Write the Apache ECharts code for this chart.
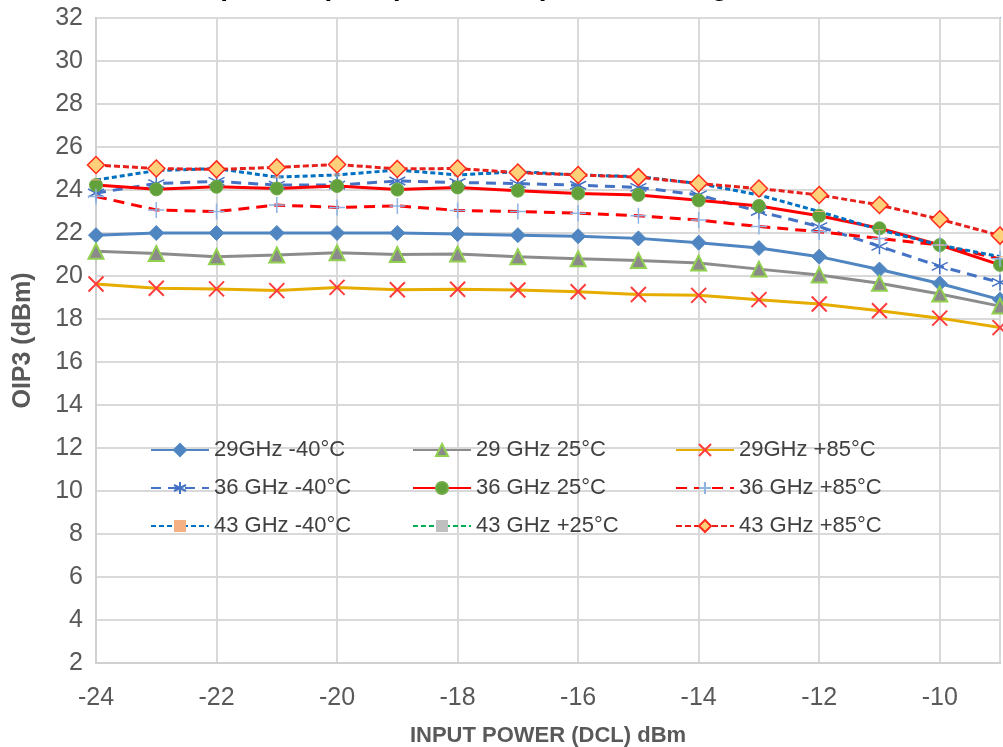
<!DOCTYPE html>
<html>
<head>
<meta charset="utf-8">
<script src="https://cdn.jsdelivr.net/npm/echarts@6/dist/echarts.min.js"></script>
<style>
  html, body { margin: 0; padding: 0; background: #ffffff; }
  #chart { width: 1003px; height: 747px; }
</style>
</head>
<body>
<div id="chart"></div>
<script>
// Input power (dBm) — x values
const inputPower = [-24, -23, -22, -21, -20, -19, -18, -17, -16, -15, -14, -13, -12, -11, -10, -9];

// OIP3 (dBm) per series
const s29m40 = [21.9, 22.0, 22.0, 22.0, 22.0, 22.0, 21.95, 21.9, 21.85, 21.75, 21.55, 21.3, 20.9, 20.3, 19.65, 18.9];
const s29p25 = [21.15, 21.05, 20.9, 20.98, 21.08, 21.0, 21.02, 20.9, 20.8, 20.72, 20.6, 20.32, 20.05, 19.66, 19.16, 18.6];
const s29p85 = [19.63, 19.43, 19.4, 19.32, 19.47, 19.36, 19.38, 19.35, 19.27, 19.14, 19.1, 18.9, 18.7, 18.38, 18.04, 17.6];
const s36m40 = [23.86, 24.3, 24.4, 24.23, 24.23, 24.42, 24.35, 24.3, 24.22, 24.12, 23.77, 23.0, 22.3, 21.38, 20.45, 19.7];
const s36p25 = [24.23, 24.03, 24.15, 24.07, 24.19, 24.02, 24.12, 23.97, 23.84, 23.77, 23.52, 23.26, 22.8, 22.22, 21.44, 20.52];
const s36p85 = [23.7, 23.07, 23.0, 23.3, 23.19, 23.26, 23.05, 23.0, 22.92, 22.8, 22.6, 22.3, 22.06, 21.75, 21.44, 20.8];
const s43m40 = [24.47, 24.9, 25.0, 24.6, 24.7, 24.93, 24.7, 24.85, 24.7, 24.62, 24.3, 23.77, 23.0, 22.15, 21.44, 20.9];
const s43p25 = [];
const s43p85 = [25.16, 25.0, 24.96, 25.05, 25.19, 24.98, 25.0, 24.81, 24.7, 24.6, 24.3, 24.07, 23.77, 23.3, 22.64, 21.88];

const seriesNames = [
  '29GHz -40°C', '36 GHz -40°C', '43 GHz -40°C',
  '29 GHz 25°C', '36 GHz 25°C', '43 GHz +25°C',
  '29GHz +85°C', '36 GHz +85°C', '43 GHz +85°C'
];

// Axis settings
const xMin = -24, xMax = -9, xStep = 2;
const yMin = 2, yMax = 32, yStep = 2;

const pair = arr => arr.map((v, i) => [inputPower[i], v]);

const X_PATH = 'path://M0,0L10,10M10,0L0,10';
const PLUS_PATH = 'path://M5,0L5,10M0,5L10,5';
const AST_PATH = 'path://M5,0L5,10M0.7,2.5L9.3,7.5M0.7,7.5L9.3,2.5';
const DASH_PATH = 'path://M0,0L9,0L9,3L0,3Z';

const series = [
  { name: '29GHz -40°C', data: pair(s29m40),
    lineStyle: { color: '#4f86c1', width: 3, type: 'solid' },
    symbol: 'diamond', symbolSize: 15,
    itemStyle: { color: '#4f86c1', borderColor: '#4f86c1', borderWidth: 1 } },
  { name: '29 GHz 25°C', data: pair(s29p25),
    lineStyle: { color: '#8c8c8c', width: 3, type: 'solid' },
    symbol: 'triangle', symbolSize: 15,
    itemStyle: { color: '#8a8a8a', borderColor: '#92d050', borderWidth: 2 } },
  { name: '29GHz +85°C', data: pair(s29p85),
    lineStyle: { color: '#e6ad00', width: 3, type: 'solid' },
    symbol: X_PATH, symbolSize: 15,
    itemStyle: { color: 'rgba(0,0,0,0)', borderColor: '#ff3b3b', borderWidth: 2 } },
  { name: '36 GHz -40°C', data: pair(s36m40),
    lineStyle: { color: '#4472c4', width: 3, type: [10, 7] },
    symbol: AST_PATH, symbolSize: 16,
    itemStyle: { color: 'rgba(0,0,0,0)', borderColor: '#4472c4', borderWidth: 1.5 } },
  { name: '36 GHz 25°C', data: pair(s36p25),
    lineStyle: { color: '#ff0000', width: 3, type: 'solid' },
    symbol: 'circle', symbolSize: 13,
    itemStyle: { color: '#62a03c', borderColor: '#70ad47', borderWidth: 1 } },
  { name: '36 GHz +85°C', data: pair(s36p85),
    lineStyle: { color: '#ff0000', width: 3, type: [11, 7] },
    symbol: PLUS_PATH, symbolSize: 16,
    itemStyle: { color: 'rgba(0,0,0,0)', borderColor: '#8fb4e3', borderWidth: 1.5 } },
  { name: '43 GHz -40°C', data: pair(s43m40),
    lineStyle: { color: '#0070c0', width: 3, type: [5, 3] },
    symbol: DASH_PATH, symbolSize: [9, 3], symbolKeepAspect: true,
    itemStyle: { color: '#f4b183', borderWidth: 0 } },
  { name: '43 GHz +25°C', data: pair(s43p25),
    lineStyle: { color: '#00b050', width: 3, type: [5, 3] },
    symbol: DASH_PATH, symbolSize: [9, 3], symbolKeepAspect: true,
    itemStyle: { color: '#bfbfbf', borderWidth: 0 } },
  { name: '43 GHz +85°C', data: pair(s43p85),
    lineStyle: { color: '#e8201c', width: 3, type: [6, 3] },
    symbol: 'diamond', symbolSize: 17,
    itemStyle: { color: '#ffd07a', borderColor: '#ff2a1a', borderWidth: 1.5 } }
].map(s => Object.assign({ type: 'line', showAllSymbol: true, smooth: false, animation: false,
  emphasis: { disabled: true } }, s));

const legendText = { fontFamily: 'Liberation Sans, Arial, sans-serif', fontSize: 22, color: '#404040', lineHeight: 24 };
const legendCommon = {
  orient: 'vertical', itemWidth: 58, itemHeight: 15, itemGap: 14,
  textStyle: legendText, selectedMode: false, top: 438, padding: 0
};

const option = {
  backgroundColor: '#ffffff',
  animation: false,
  graphic: [{
    type: 'text', left: 172, top: -27,
    style: { text: 'Output IP3 (OIP3) Over Temperature Range', fill: '#000000',
      font: 'bold 28px "Liberation Sans", Arial, sans-serif' }
  }],
  grid: { left: 96, right: 3, top: 18, bottom: 84, outerBoundsMode: 'none', containLabel: false,
    show: true, borderColor: '#8ab8e6', borderWidth: 2, backgroundColor: 'transparent' },
  legend: [
    Object.assign({ left: 150, data: [seriesNames[0], seriesNames[1], seriesNames[2]] }, legendCommon),
    Object.assign({ left: 412, data: [seriesNames[3], seriesNames[4], seriesNames[5]] }, legendCommon),
    Object.assign({ left: 675, data: [seriesNames[6], seriesNames[7], seriesNames[8]] }, legendCommon)
  ],
  xAxis: {
    type: 'value', min: xMin, max: xMax, interval: xStep,
    name: 'INPUT POWER (DCL) dBm', nameLocation: 'middle', nameGap: 62,
    nameTextStyle: { fontFamily: 'Liberation Sans, Arial, sans-serif', fontSize: 22, fontWeight: 'bold', color: '#595959' },
    axisLine: { show: true, onZero: false, lineStyle: { color: '#d0d0d0', width: 2 } },
    axisTick: { show: false },
    axisLabel: { showMaxLabel: false, margin: 23, fontFamily: 'Liberation Sans, Arial, sans-serif', fontSize: 25, color: '#595959' },
    splitLine: { show: true, lineStyle: { color: '#d9d9d9', width: 2 } }
  },
  yAxis: {
    type: 'value', min: yMin, max: yMax, interval: yStep,
    name: 'OIP3 (dBm)', nameLocation: 'middle', nameGap: 60,
    nameTextStyle: { fontFamily: 'Liberation Sans, Arial, sans-serif', fontSize: 25, fontWeight: 'bold', color: '#595959' },
    axisLine: { show: true, lineStyle: { color: '#d0d0d0', width: 2 } },
    axisTick: { show: false },
    axisLabel: { margin: 13, fontFamily: 'Liberation Sans, Arial, sans-serif', fontSize: 25, color: '#595959' },
    splitLine: { show: true, lineStyle: { color: '#d9d9d9', width: 2 } }
  },
  series: series
};

const chart = echarts.init(document.getElementById('chart'), null, { renderer: 'canvas' });
chart.setOption(option);
</script>
</body>
</html>
